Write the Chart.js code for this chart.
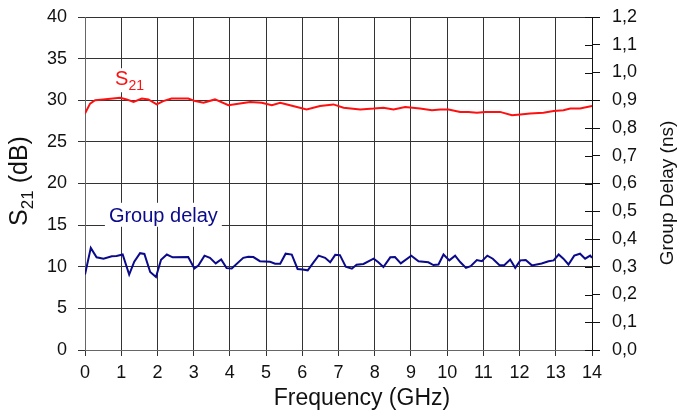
<!DOCTYPE html>
<html>
<head>
<meta charset="utf-8">
<script src="https://cdn.jsdelivr.net/npm/chart.js@4"></script>
<style>
  html, body { margin: 0; padding: 0; background: #fff; }
  canvas { display: block; }
</style>
</head>
<body>
<canvas id="chart" width="678" height="415"></canvas>
<script>
// S21 trace (GHz, dB)
const freqS21 = [0, 0.14, 0.28, 0.5, 0.97, 1.15, 1.34, 1.57, 1.75, 1.98, 2.16, 2.39, 2.85, 3.04, 3.27, 3.59, 3.96, 4.28, 4.56, 4.88,
  5.16, 5.39, 5.66, 6.12, 6.49, 6.86, 7.14, 7.6, 7.97, 8.24, 8.52, 8.84, 9.25, 9.58, 9.81, 10.04, 10.36, 10.59, 10.82, 11.05,
  11.46, 11.79, 12.02, 12.29, 12.66, 12.94, 13.21, 13.4, 13.67, 14.0];
const s21 = [28.4, 29.6, 30.0, 30.1, 30.3, 30.1, 29.8, 30.2, 30.1, 29.5, 29.9, 30.2, 30.2, 29.9, 29.7, 30.1, 29.4, 29.6, 29.8, 29.7,
  29.4, 29.7, 29.4, 28.9, 29.3, 29.5, 29.1, 28.9, 29.0, 29.1, 28.9, 29.2, 29.0, 28.8, 28.9, 28.9, 28.6, 28.6, 28.5, 28.6,
  28.6, 28.2, 28.3, 28.4, 28.5, 28.7, 28.8, 29.0, 29.0, 29.3];

// group delay trace (GHz, ns)
const freqDelay = [0, 0.16, 0.32, 0.51, 0.74, 0.87, 1.04, 1.22, 1.36, 1.52, 1.64, 1.8, 1.96, 2.1, 2.26, 2.42, 2.85, 3.02, 3.13, 3.3,
  3.45, 3.61, 3.76, 3.91, 4.05, 4.37, 4.51, 4.65, 4.83, 5.11, 5.25, 5.39, 5.54, 5.71, 5.87, 6.01, 6.15, 6.31, 6.45, 6.63,
  6.77, 6.91, 7.04, 7.2, 7.37, 7.5, 7.69, 7.97, 8.1, 8.24, 8.43, 8.56, 8.72, 9.01, 9.21, 9.48, 9.62, 9.76, 9.9, 10.06,
  10.22, 10.36, 10.52, 10.65, 10.82, 10.96, 11.11, 11.26, 11.44, 11.57, 11.74, 11.88, 12.02, 12.17, 12.34, 12.61, 12.8, 12.94, 13.08, 13.21,
  13.35, 13.51, 13.67, 13.81, 13.95, 14.0];
const groupDelay = [0.272, 0.368, 0.334, 0.329, 0.338, 0.339, 0.344, 0.272, 0.318, 0.349, 0.346, 0.281, 0.263, 0.325, 0.344, 0.334, 0.335, 0.294, 0.304, 0.340,
  0.332, 0.312, 0.326, 0.295, 0.294, 0.332, 0.336, 0.335, 0.320, 0.318, 0.311, 0.311, 0.347, 0.344, 0.292, 0.290, 0.287, 0.316, 0.340, 0.332,
  0.316, 0.343, 0.342, 0.300, 0.293, 0.307, 0.310, 0.329, 0.316, 0.299, 0.334, 0.335, 0.312, 0.340, 0.320, 0.316, 0.306, 0.308, 0.344, 0.323,
  0.340, 0.317, 0.296, 0.302, 0.324, 0.320, 0.340, 0.329, 0.306, 0.305, 0.326, 0.296, 0.323, 0.324, 0.305, 0.312, 0.320, 0.323, 0.344, 0.329,
  0.308, 0.340, 0.347, 0.329, 0.340, 0.332];

const FONT = '"Liberation Sans", Arial, sans-serif';
const RED = '#ff1010';
const NAVY = '#0a0a8a';

function toPoints(xs, ys) {
  return xs.map((x, i) => ({ x: x, y: ys[i] }));
}

// text with a subscript part, starting at (x, y) on the baseline
function drawSub(ctx, main, sub, rest, x, y, size, subSize) {
  ctx.font = size + 'px ' + FONT;
  ctx.fillText(main, x, y);
  x += ctx.measureText(main).width;
  ctx.font = subSize + 'px ' + FONT;
  ctx.fillText(sub, x, y + size * 0.25);
  x += ctx.measureText(sub).width;
  if (rest) {
    ctx.font = size + 'px ' + FONT;
    ctx.fillText(rest, x, y);
  }
}

function subWidth(ctx, main, sub, rest, size, subSize) {
  ctx.font = size + 'px ' + FONT;
  let w = ctx.measureText(main).width + (rest ? ctx.measureText(rest).width : 0);
  ctx.font = subSize + 'px ' + FONT;
  return w + ctx.measureText(sub).width;
}

const decorations = {
  id: 'decorations',
  afterDraw(chart) {
    const ctx = chart.ctx;
    const a = chart.chartArea;
    const x = chart.scales.x, y = chart.scales.y, y2 = chart.scales.y2;
    ctx.save();

    // short inner ticks of the right axis
    ctx.strokeStyle = '#111';
    ctx.lineWidth = 1;
    y2.ticks.forEach(t => {
      const p = Math.round(y2.getPixelForValue(t.value)) + 0.5;
      ctx.beginPath();
      ctx.moveTo(a.right - 7, p);
      ctx.lineTo(a.right, p);
      ctx.stroke();
    });

    ctx.textBaseline = 'alphabetic';
    ctx.textAlign = 'left';

    // S21 label in the plot
    let lx = x.getPixelForValue(0.83), ly = y.getPixelForValue(31.8);
    ctx.fillStyle = '#fff';
    ctx.fillRect(lx - 2, ly - 17, subWidth(ctx, 'S', '21', '', 20, 14) + 4, 24);
    ctx.fillStyle = RED;
    drawSub(ctx, 'S', '21', '', lx, ly, 20, 14);

    // Group delay label in the plot
    lx = x.getPixelForValue(0.66); ly = y.getPixelForValue(15.4);
    ctx.font = '20px ' + FONT;
    const gw = ctx.measureText('Group delay').width;
    ctx.fillStyle = '#fff';
    ctx.fillRect(lx - 4, ly - 19, gw + 8, 24);
    ctx.fillStyle = NAVY;
    ctx.fillText('Group delay', lx, ly);

    // axis titles
    ctx.fillStyle = '#111';
    ctx.textBaseline = 'middle';
    ctx.textAlign = 'center';
    ctx.font = '23px ' + FONT;
    ctx.fillText('Frequency (GHz)', 362, 399);

    ctx.save();
    ctx.translate(668, 193);
    ctx.rotate(-Math.PI / 2);
    ctx.font = '19px ' + FONT;
    ctx.fillText('Group Delay (ns)', 0, 0);
    ctx.restore();

    ctx.save();
    ctx.translate(27, 181);
    ctx.rotate(-Math.PI / 2);
    ctx.textAlign = 'left';
    ctx.textBaseline = 'alphabetic';
    const tw = subWidth(ctx, 'S', '21', ' (dB)', 25, 17);
    drawSub(ctx, 'S', '21', ' (dB)', -tw / 2, 0, 25, 17);
    ctx.restore();

    ctx.restore();
  }
};

const tickFont = { family: FONT, size: 18 };

// pin the plot box: fixed axis sizes, no extra room for the end labels
function fixWidth(w) {
  return s => { s.width = w; s.paddingTop = 0; s.paddingBottom = 0; };
}

new Chart(document.getElementById('chart'), {
  type: 'line',
  data: {
    datasets: [{
      label: 'S21',
      data: toPoints(freqS21, s21),
      yAxisID: 'y',
      borderColor: RED,
      borderWidth: 2,
      pointRadius: 0,
      tension: 0
    }, {
      label: 'Group delay',
      data: toPoints(freqDelay, groupDelay),
      yAxisID: 'y2',
      borderColor: NAVY,
      borderWidth: 2,
      pointRadius: 0,
      tension: 0
    }]
  },
  options: {
    responsive: false,
    animation: false,
    layout: { padding: { top: 17, left: 0, right: 0, bottom: 0 } },
    plugins: {
      legend: { display: false },
      tooltip: { enabled: false }
    },
    scales: {
      x: {
        type: 'linear',
        min: 0,
        max: 14,
        afterFit: s => { s.height = 65; s.paddingLeft = 0; s.paddingRight = 0; },
        ticks: { stepSize: 1, color: '#111', font: tickFont, padding: 6, maxRotation: 0 },
        grid: { color: '#333', lineWidth: 1, tickLength: 6 },
        border: { color: '#666', width: 1 }
      },
      y: {
        position: 'left',
        min: 0,
        max: 40,
        afterFit: fixWidth(85),
        ticks: { stepSize: 5, color: '#111', font: tickFont, padding: 11 },
        grid: { color: '#333', lineWidth: 1, tickLength: 7 },
        border: { color: '#666', width: 1 }
      },
      y2: {
        position: 'right',
        min: 0,
        max: 1.2,
        afterFit: fixWidth(86),
        ticks: {
          stepSize: 0.1,
          color: '#111',
          font: tickFont,
          padding: 12,
          callback: v => v.toFixed(1).replace('.', ',')
        },
        grid: { drawOnChartArea: false, color: '#111', tickLength: 8 },
        border: { color: '#111', width: 1 }
      }
    }
  },
  plugins: [decorations]
});
</script>
</body>
</html>
